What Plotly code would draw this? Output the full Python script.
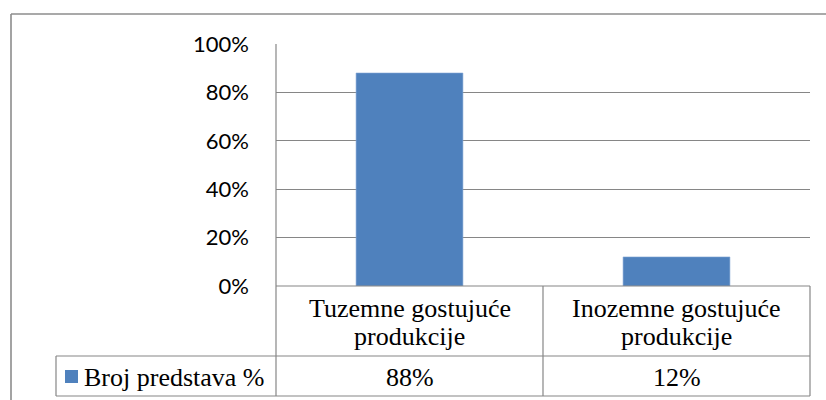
import plotly.graph_objects as go

categories = ["Tuzemne gostujuće<br>produkcije", "Inozemne gostujuće<br>produkcije"]
values = [88, 12]
value_labels = ["88%", "12%"]
series_name = "Broj predstava %"
y_ticks = [0, 20, 40, 60, 80, 100]
y_tick_labels = ["0%", "20%", "40%", "60%", "80%", "100%"]

W, H = 826, 400
L, R = 276, 810               # plot area x in px
T, B = 44, 286                # plot area y in px
pw, ph = R - L, B - T

def px(x):
    return (x - L) / pw

def py(y):
    return (B - y) / ph

BLUE = "#4f81bd"
GRID = "#868686"
SERIF = "Liberation Serif"
FS = 26

fig = go.Figure()
fig.add_trace(go.Bar(
    x=categories, y=values, width=0.4,
    marker=dict(color=BLUE, line=dict(width=0.6, color="#7fa3d3")),
    name=series_name, showlegend=False, hoverinfo="skip",
))

shapes = []
def line(x0, y0, x1, y1, color=GRID, w=1.2):
    shapes.append(dict(type="line", xref="paper", yref="paper",
                       x0=px(x0), y0=py(y0), x1=px(x1), y1=py(y1),
                       line=dict(color=color, width=w)))

# outer chart border
line(11, 14, 840, 14, "#8c8c8c", 1.6)
line(11, 14, 11, 410, "#8c8c8c", 1.6)
# data table
line(L, T, L, 396)
line(543, B, 543, 396)
line(R, B, R, 396)
line(56, 356, R, 356)
line(56, 396, R, 396)
line(56, 356, 56, 396)
line(L, B, R, B)
# legend key
shapes.append(dict(type="rect", xref="paper", yref="paper",
                   x0=px(65), x1=px(78), y0=py(370), y1=py(383),
                   fillcolor=BLUE, line=dict(width=0)))

annotations = []
for c, v in zip(categories, value_labels):
    for i, part in enumerate(c.split("<br>")):
        annotations.append(dict(x=c, xref="x", y=py(308 + 28 * i), yref="paper", text=part,
                                showarrow=False, font=dict(family=SERIF, size=FS, color="#000"),
                                xanchor="center", yanchor="middle"))
    annotations.append(dict(x=c, xref="x", y=py(377), yref="paper", text=v, showarrow=False,
                            font=dict(family=SERIF, size=FS, color="#000"),
                            xanchor="center", yanchor="middle"))
annotations.append(dict(x=px(82), xref="paper", y=py(377), yref="paper", text=series_name,
                        showarrow=False, font=dict(family=SERIF, size=FS, color="#000"),
                        xanchor="left", yanchor="middle"))

fig.update_layout(
    width=W, height=H,
    margin=dict(l=L, r=W - R, t=T, b=H - B, pad=0),
    paper_bgcolor="white", plot_bgcolor="white",
    shapes=shapes, annotations=annotations,
    xaxis=dict(showticklabels=False, showgrid=False, zeroline=False, showline=False,
               range=[-0.5, 1.5]),
    yaxis=dict(range=[0, 100], tickvals=y_ticks, ticktext=y_tick_labels,
               showgrid=True, gridcolor=GRID, gridwidth=1.2, zeroline=False, showline=False,
               ticks="", ticklabelstandoff=26,
               tickfont=dict(family="Lato, Open Sans, sans-serif", size=22, color="#000")),
)

fig.write_html(
    "out.html",
    config={"displayModeBar": False},
    post_script="document.body.style.margin='0';document.body.style.overflow='hidden';",
)
